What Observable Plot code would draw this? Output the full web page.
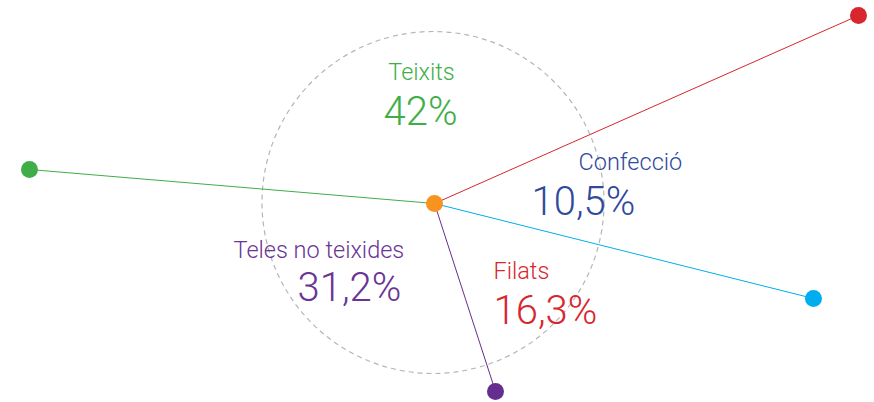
<!DOCTYPE html>
<html><head><meta charset="utf-8">
<script src="https://cdn.jsdelivr.net/npm/d3@7"></script>
<script src="https://cdn.jsdelivr.net/npm/@observablehq/plot@0.6"></script>
<style>html,body{margin:0;padding:0;background:#fff;overflow:hidden}</style>
</head><body><div id="chart"></div>
<script>
// Categories and shares
const categories = ["Teixits", "Confecció", "Teles no teixides", "Filats"];
const shares = ["42%", "10,5%", "31,2%", "16,3%"];
const labelColors = ["#3fae49", "#2f4a9b", "#6a3494", "#d7262e"];

// Spokes from the centre (relative units, y up)
const spokeNames = ["green", "red", "blue", "purple"];
const spokeDX = [-405, 424, 379, 61];
const spokeDY = [34, 188, -95, -188];
const spokeColors = ["#3fae49", "#d7262e", "#00aeef", "#662d91"];

// Label anchors (relative units, y up)
const nameX = [-13, 144, -201, 59];
const nameY = [124, 34, -54, -75];
const nameAnchor = ["middle", "start", "start", "start"];
const shareX = [-14, 97, -137, 59];
const shareY = [79, -11, -97, -120];
const shareAnchor = ["middle", "start", "start", "start"];

const spokes = spokeNames.map((n, i) => ({name: n, x: spokeDX[i], y: spokeDY[i], color: spokeColors[i]}));
const segs = spokes.map(s => ({x1: 0, y1: 0, x2: s.x, y2: s.y, color: s.color}));
const names = categories.map((c, i) => ({t: c, x: nameX[i], y: nameY[i], a: nameAnchor[i], color: labelColors[i]}));
const vals = shares.map((c, i) => ({t: c, x: shareX[i], y: shareY[i], a: shareAnchor[i], color: labelColors[i]}));

const font = "Roboto";
const chart = Plot.plot({
  width: 874, height: 402,
  margin: 0,
  x: {domain: [-434, 440], axis: null},
  y: {domain: [-199, 203], axis: null},
  style: {background: "#fff", fontFamily: font},
  marks: [
    Plot.dot([{x: -1.5, y: 1}], {x: "x", y: "y", r: 171, fill: "none", stroke: "#b5b5b5", strokeWidth: 1.2, strokeDasharray: "5,4"}),
    Plot.link(segs, {x1: "x1", y1: "y1", x2: "x2", y2: "y2", stroke: d => d.color, strokeWidth: 1}),
    Plot.dot(spokes, {x: "x", y: "y", r: 8.5, fill: d => d.color, stroke: "none"}),
    Plot.dot([{x: 0, y: 0}], {x: "x", y: "y", r: 8.5, fill: "#f7931e", stroke: "none"}),
    ...names.map(d => Plot.text([d], {x: "x", y: "y", text: "t", fill: d.color, textAnchor: d.a, lineAnchor: "bottom", fontSize: 23.5, fontWeight: 300})),
    ...vals.map(d => Plot.text([d], {x: "x", y: "y", text: "t", fill: d.color, textAnchor: d.a, lineAnchor: "bottom", fontSize: 40, fontWeight: 300}))
  ]
});
document.getElementById("chart").appendChild(chart);
</script>
</body></html>
